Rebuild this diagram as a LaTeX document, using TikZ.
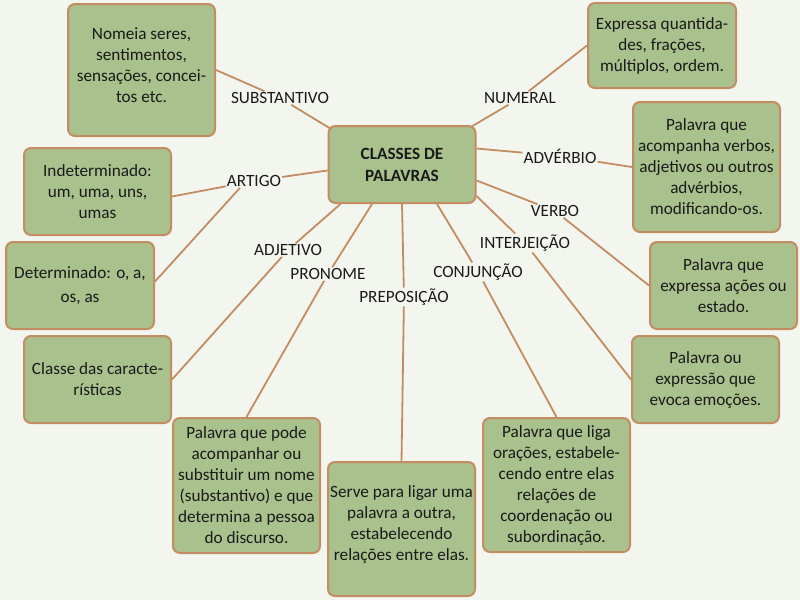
\documentclass[tikz,border=0pt]{standalone}
\usepackage{fontspec}
\setmainfont{Carlito}
\usetikzlibrary{backgrounds}
\definecolor{bgc}{HTML}{F3F6EF}
\definecolor{boxfill}{HTML}{A9C18D}
\definecolor{boxline}{HTML}{C48C62}
\definecolor{txt}{HTML}{1A1A1A}
\tikzset{
  cbox/.style={draw=boxline, fill=boxfill, line width=2pt, rounded corners=7pt,
    minimum width=147pt, minimum height=#1, align=center, inner sep=1pt,
    text=txt, font=\fontsize{17.2}{21}\selectfont},
  cbox/.default=87pt,
  lbl/.style={text=txt, font=\fontsize{17.2}{20}\selectfont, inner sep=1pt},
  conn/.style={draw=boxline, line width=1.8pt}
}
\begin{document}
\begin{tikzpicture}[x=1pt,y=-1pt]
\useasboundingbox (0,0) rectangle (800,600);
% boxes
\node[cbox=77pt, font=\fontsize{17.2}{22}\selectfont\bfseries] (c) at (402,164.5) {CLASSES DE\\PALAVRAS};
\node[cbox=132pt] (b1) at (141.5,70) {Nomeia seres,\\sentimentos,\\sensações, concei-\\tos etc.\\[-11pt]};
\node[cbox=85pt, minimum width=148pt] (b2) at (662,45.5) {Expressa quantida-\\des, frações,\\múltiplos, ordem.};
\node[cbox] (b4) at (97.5,191.5) {Indeterminado:\\um, uma, uns,\\umas};
\node[cbox, minimum width=148pt] (b5) at (80,285.5) {Determinado: o, a,\\[3pt]os, as};
\node[cbox] (b6) at (97.5,379.5) {Classe das caracte-\\rísticas};
\node[cbox=130pt] (b7) at (706.5,167) {Palavra que\\acompanha verbos,\\adjetivos ou outros\\advérbios,\\modificando-os.};
\node[cbox] (b8) at (723.5,285.5) {Palavra que\\expressa ações ou\\estado.};
\node[cbox] (b9) at (705.5,379.5) {Palavra ou\\expressão que\\evoca emoções.};
\node[cbox=135pt] (b10) at (246.5,485.5) {Palavra que pode\\acompanhar ou\\substituir um nome\\(substantivo) e que\\determina a pessoa\\do discurso.};
\node[cbox=134pt] (b11) at (401.5,529) {Serve para ligar uma\\palavra a outra,\\estabelecendo\\relações entre elas.\\[-9pt]};
\node[cbox=134pt] (b12) at (556.5,485) {Palavra que liga\\orações, estabele-\\cendo entre elas\\relações de\\coordenação ou\\subordinação.};
% labels
\node[lbl] (lsub) at (280,98) {SUBSTANTIVO};
\node[lbl] (lnum) at (520,98) {NUMERAL};
\node[lbl] (lart) at (254,181) {ARTIGO};
\node[lbl] (ladv) at (560,156) {ADVÉRBIO};
\node[lbl] (lverb) at (555,211) {VERBO};
\node[lbl] (lint) at (525,243) {INTERJEIÇÃO};
\node[lbl] (ladj) at (288,250) {ADJETIVO};
\node[lbl] (lpro) at (328,274) {PRONOME};
\node[lbl] (lconj) at (478,272) {CONJUNÇÃO};
\node[lbl] (lprep) at (404,297) {PREPOSIÇÃO};
% connectors
\begin{scope}[on background layer]
\fill[bgc] (0,0) rectangle (800,600);
\draw[conn] (b1.east) -- (lsub) -- ([xshift=2pt,yshift=-3pt]c.north west);
\draw[conn] ([xshift=-4pt,yshift=-1pt]c.north east) -- (lnum) -- (b2.west);
\draw[conn] ([yshift=-5pt]b4.east) -- (lart) -- ([yshift=-6pt]c.west);
\draw[conn] ([yshift=4pt]b5.east) -- ([xshift=-14pt]lart.south);
\draw[conn] ([yshift=16pt]c.east) -- (ladv) -- (b7.west);
\draw[conn] ([yshift=-16pt]c.east) -- (lverb) -- (b8.west);
\draw[conn] ([yshift=8pt]c.south east) -- (lint) -- (b9.west);
\draw[conn] (b6.east) -- (ladj) -- ([xshift=13pt]c.south west);
\draw[conn] (b10.north) -- (lpro) -- ([xshift=-30pt]c.south);
\draw[conn] (c.south) -- (lprep) -- (b11.north);
\draw[conn] ([xshift=35pt]c.south) -- (lconj) -- (b12.north);
\end{scope}
\end{tikzpicture}
\end{document}
